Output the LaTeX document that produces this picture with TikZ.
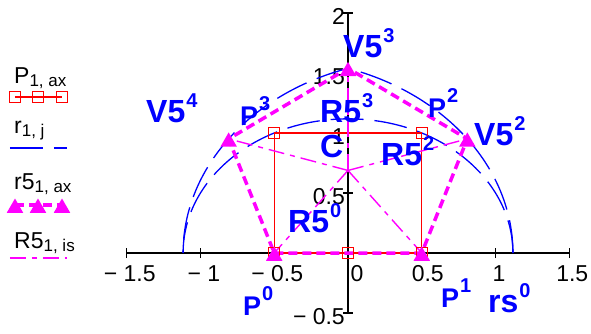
\documentclass[tikz,border=0pt]{standalone}
\usepackage{fontspec}
\setmainfont{Liberation Sans}
\usetikzlibrary{shapes.geometric,positioning}
\definecolor{mcblue}{RGB}{0,0,255}
\definecolor{mcred}{RGB}{255,0,0}
\definecolor{mcmagenta}{RGB}{255,0,255}
\newcommand{\lsub}[1]{\raisebox{-3pt}{\fontsize{17}{17}\selectfont #1}}
\newcommand{\lsup}[1]{\kern1pt\raisebox{15pt}{\fontsize{20}{20}\selectfont\bfseries #1}}

\begin{document}
\begin{tikzpicture}[
  x=147.5pt, y=120pt,
  axis/.style={black, line width=1.4pt},
  ticklbl/.style={font=\fontsize{23}{23}\selectfont, inner sep=0pt},
  sqmark/.style={rectangle, draw=mcred, line width=1.1pt, minimum size=11pt, inner sep=0pt},
  trimark/.style={regular polygon, regular polygon sides=3, fill=mcmagenta, minimum size=19pt, inner sep=0pt, yshift=-3pt},
  sqline/.style={mcred, line width=1.3pt},
  circline/.style={mcblue, line width=1.3pt, dash pattern=on 33pt off 11pt},
  pentline/.style={mcmagenta, line width=3.5pt, dash pattern=on 9pt off 5pt},
  radline/.style={mcmagenta, line width=1.4pt, dash pattern=on 16pt off 6pt on 5pt off 6pt},
  lbl/.style={text=mcblue, font=\fontsize{32}{32}\selectfont\bfseries, inner sep=0pt, anchor=base west},
  plbl/.style={lbl, font=\fontsize{27}{27}\selectfont\bfseries},
  legtxt/.style={font=\fontsize{23}{23}\selectfont, inner sep=0pt, anchor=base west}
]
\useasboundingbox (-348pt,-80pt) rectangle (243pt,253pt);

% Axes
\draw[axis] (-1.5,0) -- (1.5,0);
\draw[axis] (0,-0.5) -- (0,2);
\foreach \t/\s/\d [count=\i] in {-1.5/− 1.5/3, -1/− 1/3.5, -0.5/− 0.5/3, 0/0/9, 0.5/0.5/6, 1/1/3.5, 1.5/1.5/3}{
  \draw[axis] (\t,0) ++(0pt,-5pt) -- ++(0pt,10pt);
  \node[ticklbl, xshift=\d pt, yshift=-21pt] (xt\i) at (\t,0) {\s};
}
\foreach \t/\s [count=\i] in {-0.5/− 0.5, 0.5/0.5, 1/1, 1.5/1.5, 2/2}{
  \draw[axis] (0,\t) ++(-5pt,0pt) -- ++(10pt,0pt);
  \node[ticklbl, anchor=east, xshift=-3pt, yshift=-3.5pt] (yt\i) at (0,\t) {\s};
}

% Square and pentagon points
\coordinate (q0) at (0,0);
\coordinate (q1) at (0.5,0);
\coordinate (q2) at (0.5,1);
\coordinate (q3) at (-0.5,1);
\coordinate (q4) at (-0.5,0);
\coordinate (v0) at (-0.5,0);
\coordinate (v1) at (0.5,0);
\coordinate (v2) at (0.809,0.951);
\coordinate (v3) at (0,1.539);
\coordinate (v4) at (-0.809,0.951);
\coordinate (c) at (0,0.688);
\coordinate (rs0) at (1.118,0);

% Circles r
\draw[circline] (rs0) arc[start angle=0, end angle=180, radius=1.118];
\draw[circline] (rs0) arc[start angle=0, end angle=72, radius=1.618];
\draw[circline] (v3) arc[start angle=108, end angle=180, radius=1.618];

% Square P
\draw[sqline] (q0) -- (q1) -- (q2) -- (q3) -- (q4) -- (q0);

% Radii R5 and pentagon r5
\foreach \v in {v0,v1,v2,v3,v4}
  \draw[radline] (c) -- (\v);
\draw[pentline] (v0) -- (v1) -- (v2) -- (v3) -- (v4) -- cycle;

\foreach \q in {q0,q1,q2,q3,q4}
  \node[sqmark] (m\q) at (\q) {};
\foreach \v in {v0,v1,v2,v3,v4}
  \node[trimark] (m\v) at (\v) {};

% Labels and legend (pixel positions)
\begin{scope}[x=1pt, y=-1pt, shift={(-348pt,253pt)}]
\node[lbl] (lV3) at (343,57) {V5\lsup{3}};
\node[lbl] (lV4) at (146,122) {V5\lsup{4}};
\node[lbl] (lV2) at (474,145) {V5\lsup{2}};
\node[plbl] (lP3) at (240,125) {P\lsup{3}};
\node[plbl] (lP2) at (428,117) {P\lsup{2}};
\node[lbl] (lR3) at (320,122) {R5\lsup{3}};
\node[lbl] (lC) at (320,157) {C};
\node[lbl] (lR2) at (381,165) {R5\lsup{2}};
\node[lbl] (lR0) at (288,232) {R5\lsup{0}};
\node[plbl] (lP0) at (243,315) {P\lsup{0}};
\node[plbl] (lP1) at (441,307) {P\lsup{1}};
\node[lbl] (lrs) at (488,312) {rs\lsup{0}};

\node[legtxt] (legP) at (14,83) {P\lsub{1, ax}};
\foreach \xx [count=\i] in {15,38,62}
  \coordinate (lq\i) at (\xx,97);
\draw[sqline] (lq1) -- (lq3);
\foreach \i in {1,2,3}
  \node[sqmark] (lsq\i) at (lq\i) {};

\node[legtxt] (legr) at (14,133) {r\lsub{1, j}};
\coordinate (lb1) at (10,148);
\coordinate (lb2) at (67,148);
\draw[circline] (lb1) -- (lb2);

\node[legtxt] (legr5) at (14,189) {r5\lsub{1, ax}};
\foreach \xx [count=\i] in {15,38,62}
  \coordinate (lt\i) at (\xx,205);
\draw[pentline] (lt1) -- (lt3);
\foreach \i in {1,2,3}
  \node[trimark] (ltr\i) at (lt\i) {};

\node[legtxt] (legR5) at (14,248) {R5\lsub{1, is}};
\coordinate (lm1) at (10,258);
\coordinate (lm2) at (67,258);
\draw[radline] (lm1) -- (lm2);
\end{scope}

\end{tikzpicture}
\end{document}
